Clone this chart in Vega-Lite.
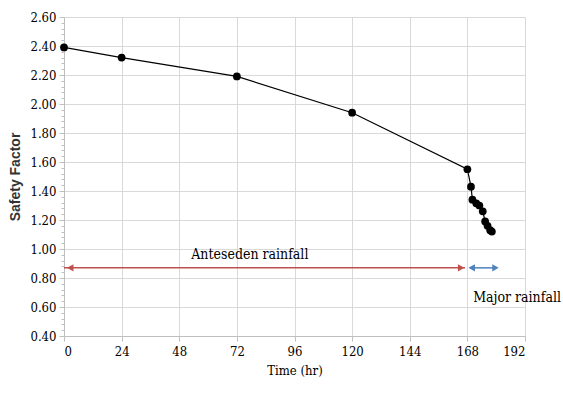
{
  "$schema": "https://vega.github.io/schema/vega-lite/v6.json",
  "width": 461,
  "height": 319,
  "autosize": {"type": "none"},
  "padding": {"left": 64, "top": 17, "right": 38, "bottom": 58},
  "background": "white",
  "config": {"view": {"stroke": null}},
  "datasets": {
    "sf": [
      {"t": 0, "sf": 2.39},
      {"t": 24, "sf": 2.32},
      {"t": 72, "sf": 2.19},
      {"t": 120, "sf": 1.94},
      {"t": 168, "sf": 1.55},
      {"t": 169.5, "sf": 1.43},
      {"t": 170.1, "sf": 1.34},
      {"t": 171.7, "sf": 1.315},
      {"t": 173, "sf": 1.30},
      {"t": 174.4, "sf": 1.26},
      {"t": 175.4, "sf": 1.19},
      {"t": 176.4, "sf": 1.16},
      {"t": 177.5, "sf": 1.13},
      {"t": 178.2, "sf": 1.12}
    ],
    "arrows": [
      {"phase": "Anteseden", "t0": 0, "t1": 167, "y": 0.87},
      {"phase": "Major", "t0": 169, "t1": 180, "y": 0.87}
    ],
    "headsL": [
      {"phase": "Anteseden", "t": 2.6, "y": 0.87},
      {"phase": "Major", "t": 169.8, "y": 0.87}
    ],
    "headsR": [
      {"phase": "Anteseden", "t": 165.4, "y": 0.87},
      {"phase": "Major", "t": 179.7, "y": 0.87}
    ],
    "labels": [
      {"t": 53, "y": 0.96, "label": "Anteseden rainfall"},
      {"t": 170.4, "y": 0.66, "label": "Major rainfall"}
    ]
  },
  "layer": [
    {
      "data": {"name": "sf"},
      "mark": {"type": "line", "color": "black", "strokeWidth": 1.2},
      "encoding": {
        "x": {
          "field": "t", "type": "quantitative",
          "scale": {"domain": [0, 192], "nice": false},
          "axis": {
            "values": [0, 24, 48, 72, 96, 120, 144, 168, 192],
            "title": "Time (hr)",
            "titleFont": "DejaVu Serif Condensed", "titleFontSize": 13, "titleFontWeight": "normal", "titleColor": "black", "titlePadding": 6,
            "labelFont": "DejaVu Serif Condensed", "labelFontSize": 13, "labelColor": "black", "labelPadding": 4,
            "grid": true, "gridColor": "#d9d9d9", "gridWidth": 1,
            "domainColor": "#bfbfbf", "tickColor": "#bfbfbf", "tickSize": 5
          }
        },
        "y": {
          "field": "sf", "type": "quantitative",
          "scale": {"domain": [0.4, 2.6], "nice": false, "zero": false},
          "axis": {
            "values": [0.4,0.44,0.48,0.52,0.56,0.6,0.64,0.68,0.72,0.76,0.8,0.84,0.88,0.92,0.96,1.0,1.04,1.08,1.12,1.16,1.2,1.24,1.28,1.32,1.36,1.4,1.44,1.48,1.52,1.56,1.6,1.64,1.68,1.72,1.76,1.8,1.84,1.88,1.92,1.96,2.0,2.04,2.08,2.12,2.16,2.2,2.24,2.28,2.32,2.36,2.4,2.44,2.48,2.52,2.56,2.6],
            "tickCount": 100,
            "labelOverlap": false,
            "labelExpr": "abs(datum.value*5 - round(datum.value*5)) < 0.01 ? format(datum.value, '.2f') : ''",
            "gridOpacity": {"condition": {"test": "abs(datum.value*5 - round(datum.value*5)) < 0.01", "value": 1}, "value": 0},
            "tickSize": {"condition": {"test": "abs(datum.value*5 - round(datum.value*5)) < 0.01", "value": 5}, "value": 3},
            "title": "Safety Factor",
            "titleFont": "Liberation Sans", "titleFontSize": 14, "titleFontWeight": "bold", "titleColor": "#333333", "titlePadding": 7,
            "labelFont": "DejaVu Serif Condensed", "labelFontSize": 13, "labelColor": "black", "labelPadding": 3,
            "grid": true, "gridColor": "#d9d9d9", "gridWidth": 1,
            "domainColor": "#bfbfbf", "tickColor": "#bfbfbf"
          }
        }
      }
    },
    {
      "data": {"name": "sf"},
      "mark": {"type": "point", "filled": true, "color": "black", "size": 60, "opacity": 1},
      "encoding": {
        "x": {"field": "t", "type": "quantitative"},
        "y": {"field": "sf", "type": "quantitative"}
      }
    },
    {
      "data": {"name": "arrows"},
      "mark": {"type": "rule", "strokeWidth": 1.5},
      "encoding": {
        "x": {"field": "t0", "type": "quantitative"},
        "x2": {"field": "t1"},
        "y": {"field": "y", "type": "quantitative"},
        "color": {"field": "phase", "type": "nominal", "scale": {"domain": ["Anteseden", "Major"], "range": ["#c0504d", "#4f81bd"]}, "legend": null}
      }
    },
    {
      "data": {"name": "headsL"},
      "mark": {"type": "point", "shape": "triangle-left", "filled": true, "size": 55, "opacity": 1},
      "encoding": {
        "x": {"field": "t", "type": "quantitative"},
        "y": {"field": "y", "type": "quantitative"},
        "color": {"field": "phase", "type": "nominal", "legend": null}
      }
    },
    {
      "data": {"name": "headsR"},
      "mark": {"type": "point", "shape": "triangle-right", "filled": true, "size": 55, "opacity": 1},
      "encoding": {
        "x": {"field": "t", "type": "quantitative"},
        "y": {"field": "y", "type": "quantitative"},
        "color": {"field": "phase", "type": "nominal", "legend": null}
      }
    },
    {
      "data": {"name": "labels"},
      "mark": {"type": "text", "font": "DejaVu Serif Condensed", "fontSize": 14, "color": "black", "align": "left", "baseline": "middle"},
      "encoding": {
        "x": {"field": "t", "type": "quantitative"},
        "y": {"field": "y", "type": "quantitative"},
        "text": {"field": "label"}
      }
    }
  ]
}
